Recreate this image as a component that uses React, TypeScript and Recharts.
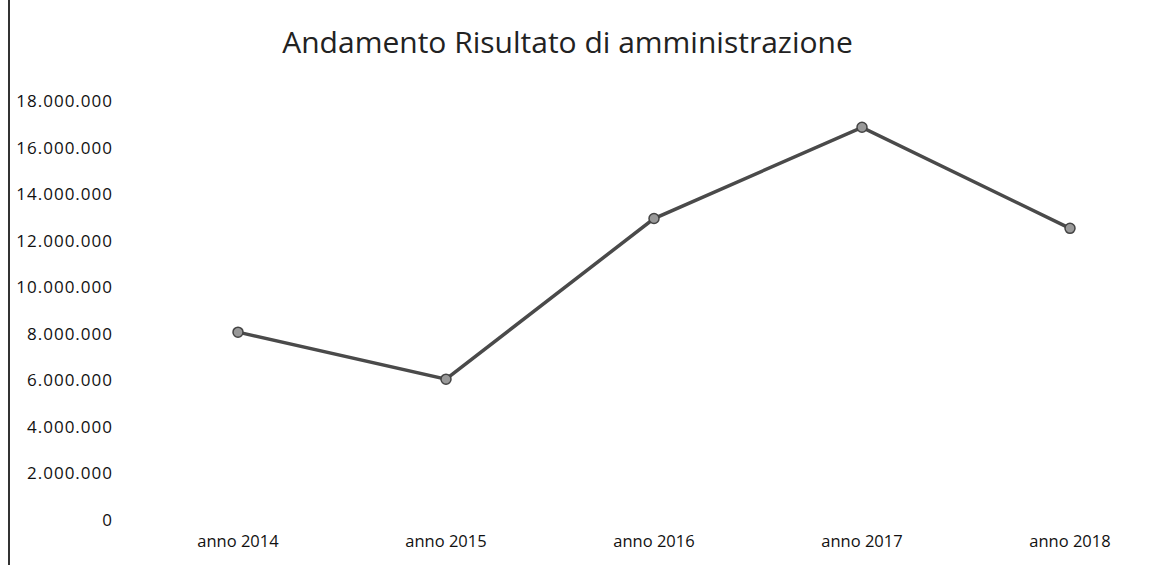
import { LineChart, Line, XAxis, YAxis } from "recharts";

const years = ["anno 2014", "anno 2015", "anno 2016", "anno 2017", "anno 2018"];
const risultato = [8070000, 6050000, 12950000, 16870000, 12530000];
const yTicks = [0, 2000000, 4000000, 6000000, 8000000, 10000000, 12000000, 14000000, 16000000, 18000000];

const data = years.map((anno, i) => ({ anno, valore: risultato[i] }));

const FONT = "'Open Sans', 'Liberation Sans', sans-serif";

// formato italiano: 18.000.000
const fmt = (v: number) => String(v).replace(/\B(?=(\d{3})+(?!\d))/g, ".");

export default function App() {
  return (
    <div style={{ position: "absolute", left: 0, top: 0, width: 1163, height: 565, background: "#fff", fontFamily: FONT }}>
      <div style={{ position: "absolute", left: 8, top: 0, width: 2, height: 565, background: "#333" }} />
      <div
        style={{
          position: "absolute",
          left: 0,
          width: 1135,
          top: 21,
          textAlign: "center",
          fontSize: 30,
          color: "#222",
          fontFamily: FONT,
        }}
      >
        Andamento Risultato di amministrazione
      </div>
      <LineChart
        width={1163}
        height={565}
        data={data}
        margin={{ top: 101, right: 20, bottom: 0, left: 0 }}
        style={{ position: "absolute", left: 0, top: 0 }}
      >
        <XAxis
          dataKey="anno"
          axisLine={false}
          tickLine={false}
          height={45}
          tickMargin={9}
          padding={{ left: 117, right: 73 }}
          tick={{ fill: "#111", fontSize: 16.5, fontFamily: FONT }}
        />
        <YAxis
          domain={[0, 18000000]}
          ticks={yTicks}
          tickFormatter={fmt}
          axisLine={false}
          tickLine={false}
          width={121}
          interval={0}
          tick={{ fill: "#111", fontSize: 17, fontFamily: FONT, letterSpacing: 1 }}
        />
        <Line
          type="linear"
          dataKey="valore"
          stroke="#4a4a4a"
          strokeWidth={3.5}
          dot={{ r: 5, fill: "#999", stroke: "#444", strokeWidth: 1.5 }}
          isAnimationActive={false}
        />
      </LineChart>
    </div>
  );
}
